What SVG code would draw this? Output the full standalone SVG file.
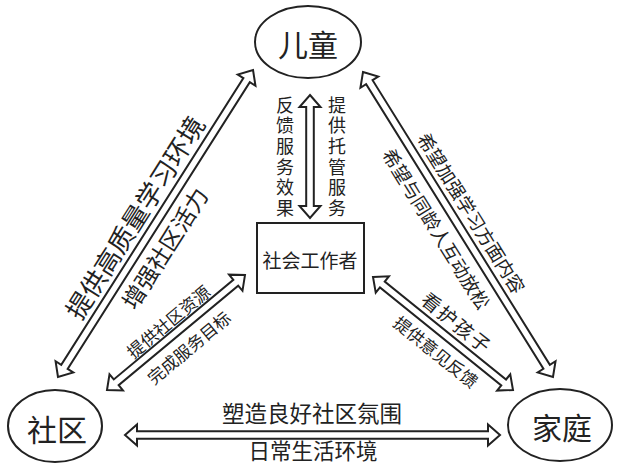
<svg xmlns="http://www.w3.org/2000/svg" width="618" height="465" viewBox="0 0 618 465">
<style>
.node{fill:#fff;stroke:#222;stroke-width:2}
.arr{fill:#fff;stroke:#222;stroke-width:2;stroke-linejoin:miter}
text{font-family:"Noto Sans CJK SC","Noto Sans",sans-serif;fill:#222;text-anchor:middle;dominant-baseline:central}
.v{font-size:18px;writing-mode:vertical-rl;letter-spacing:2.6px}
</style>
<rect width="618" height="465" fill="#fff"/>
<g id="connectors">
  <polygon class="arr" transform="translate(310,95) rotate(90)" points="0,0 12,-10.5 12,-3.8 111,-3.8 111,-10.5 123,0 111,10.5 111,3.8 12,3.8 12,10.5"/>
  <polygon class="arr" transform="translate(58,377) rotate(-57.57)" points="0,0 12,-10.5 12,-3.8 351.7,-3.8 351.7,-10.5 363.7,0 351.7,10.5 351.7,3.8 12,3.8 12,10.5"/>
  <polygon class="arr" transform="translate(107,390) rotate(-39.8)" points="0,0 12,-10.5 12,-3.8 167.6,-3.8 167.6,-10.5 179.6,0 167.6,10.5 167.6,3.8 12,3.8 12,10.5"/>
  <polygon class="arr" transform="translate(363,72) rotate(58.08)" points="0,0 12,-10.5 12,-3.8 347.3,-3.8 347.3,-10.5 359.3,0 347.3,10.5 347.3,3.8 12,3.8 12,10.5"/>
  <polygon class="arr" transform="translate(373,277) rotate(38.9)" points="0,0 12,-10.5 12,-3.8 167.9,-3.8 167.9,-10.5 179.9,0 167.9,10.5 167.9,3.8 12,3.8 12,10.5"/>
  <polygon class="arr" transform="translate(125,435)" points="0,0 12,-10.5 12,-3.8 363,-3.8 363,-10.5 375,0 363,10.5 363,3.8 12,3.8 12,10.5"/>
  <text class="v" x="285" y="157.8">反馈服务效果</text>
  <text class="v" x="337" y="157.8">提供托管服务</text>
  <g transform="translate(58,377) rotate(-57.57)">
    <text x="176" y="-22" font-size="26">提供高质量学习环境</text>
    <text x="166" y="20" font-size="23">增强社区活力</text>
  </g>
  <g transform="translate(107,390) rotate(-39.8)">
    <text x="91" y="-14" font-size="17">提供社区资源</text>
    <text x="90" y="19" font-size="17">完成服务目标</text>
  </g>
  <g transform="translate(363,72) rotate(58.08)">
    <text x="177" y="-18" font-size="18.5">希望加强学习方面内容</text>
    <text x="172" y="20" font-size="18.5">希望与同龄人互动放松</text>
  </g>
  <g transform="translate(373,277) rotate(38.9)">
    <text x="94" y="-18" font-size="19" letter-spacing="2">看护孩子</text>
    <text x="96" y="18" font-size="17">提供意见反馈</text>
  </g>
  <text x="312" y="412" font-size="22.5">塑造良好社区氛围</text>
  <text x="313" y="449" font-size="21.5">日常生活环境</text>
</g>
<g id="child">
  <ellipse class="node" cx="308" cy="42" rx="53" ry="36"/>
  <text x="308" y="43" font-size="30">儿童</text>
</g>
<g id="community">
  <ellipse class="node" cx="55" cy="426" rx="47" ry="36"/>
  <text x="57" y="428" font-size="30">社区</text>
</g>
<g id="family">
  <ellipse class="node" cx="560" cy="425" rx="52" ry="36"/>
  <text x="562" y="426" font-size="30">家庭</text>
</g>
<g id="social-worker">
  <rect class="node" x="257" y="223" width="107" height="70"/>
  <text x="310" y="259" font-size="19">社会工作者</text>
</g>
</svg>
